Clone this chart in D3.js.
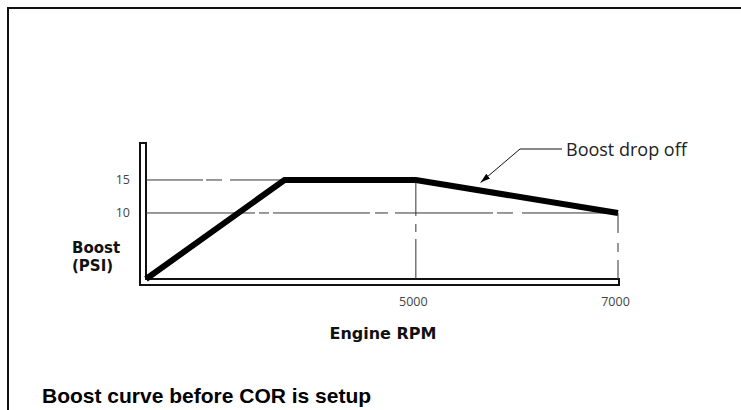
<!DOCTYPE html>
<html lang="en">
    <head>
        <meta charset="UTF-8" />
        <title>Boost curve before COR is setup</title>
        <script src="https://cdn.jsdelivr.net/npm/d3@7"></script>
        <style>
            body {
                margin: 0;
                background: #fff;
                overflow: hidden;
            }
            .tick-label {
                font-family: 'Open Sans', 'DejaVu Sans', sans-serif;
                font-size: 12.5px;
                fill: #444;
            }
            .axis-title {
                font-family: 'DejaVu Sans', sans-serif;
                font-weight: bold;
                fill: #111;
            }
        </style>
    </head>
    <body>
        <div id="container"></div>
        <script>
            // boost curve (schematic), origin is unlabelled
            const rpm = [2330, 3700, 5000, 7000]
            const boost = [0, 15, 15, 10]
            const yTicks = [10, 15]
            const xTicks = [5000, 7000]
            const yTitle = ['Boost', '(PSI)']
            const xTitle = 'Engine RPM'
            const note = 'Boost drop off'
            const caption = 'Boost curve before COR is setup'

            const width = 741
            const height = 410

            const svg = d3.select('#container').append('svg').attr('width', width).attr('height', height)

            // outer frame, runs off the right and bottom
            svg.append('rect')
                .attr('x', 8)
                .attr('y', 8)
                .attr('width', 800)
                .attr('height', 500)
                .attr('fill', 'none')
                .attr('stroke', '#111')
                .attr('stroke-width', 2)

            const x = d3.scaleLinear().domain([rpm[0], 7000]).range([146, 618])
            const y = d3.scaleLinear().domain([0, 20.6]).range([279, 143])

            const x0 = x.range()[0]
            const y0 = y(0)

            // double-line axes drawn as a hollow outline
            svg.append('path')
                .attr('d', `M${x0},${y.range()[1]} V${y0} H${x(7000) + 1} V${y0 + 6} H${x0 - 6} V${y.range()[1]} Z`)
                .attr('fill', 'none')
                .attr('stroke', '#111')
                .attr('stroke-width', 2)

            const thin = (sel) => sel.attr('fill', 'none').attr('stroke', '#333').attr('stroke-width', 1)

            // reference (centre) lines
            svg.append('line')
                .attr('x1', x0)
                .attr('x2', x(rpm[1]))
                .attr('y1', y(15))
                .attr('y2', y(15))
                .call(thin)
                .attr('stroke-dasharray', '57 3 16 8 200')
            svg.append('line')
                .attr('x1', x0)
                .attr('x2', x(7000))
                .attr('y1', y(10))
                .attr('y2', y(10))
                .call(thin)
                .attr('stroke-dasharray', '109 4 10 4 97 5 13 7 98 4 16 9 200')
            svg.append('line')
                .attr('x1', x(5000))
                .attr('x2', x(5000))
                .attr('y1', y(15))
                .attr('y2', y0)
                .call(thin)
                .attr('stroke-dasharray', '36 8 8 7 200')
            svg.append('line')
                .attr('x1', x(7000))
                .attr('x2', x(7000))
                .attr('y1', y(10))
                .attr('y2', y0)
                .call(thin)
                .attr('stroke-dasharray', '20 10 9 8 200')

            // the boost curve
            const line = d3
                .line()
                .x((d) => x(d[0]))
                .y((d) => y(d[1]))
            svg.append('path')
                .attr('d', line(d3.zip(rpm, boost)))
                .attr('fill', 'none')
                .attr('stroke', '#000')
                .attr('stroke-width', 6)
                .attr('stroke-linejoin', 'miter')

            // tick labels only, no tick marks
            const yAxis = svg
                .append('g')
                .attr('transform', `translate(${x0},0)`)
                .call(d3.axisLeft(y).tickValues(yTicks).tickSize(0).tickPadding(16))
            const xAxis = svg
                .append('g')
                .attr('transform', `translate(0,${y0})`)
                .call(d3.axisBottom(x).tickValues(xTicks).tickFormat(d3.format('d')).tickSize(0).tickPadding(18))
            for (const g of [yAxis, xAxis]) {
                g.select('.domain').remove()
                g.selectAll('text').attr('class', 'tick-label').attr('fill', null).attr('font-family', null).attr('font-size', null)
            }
            xAxis.selectAll('text').attr('dx', -3)

            // axis titles
            svg.append('text')
                .attr('class', 'axis-title')
                .attr('x', 72)
                .selectAll('tspan')
                .data(yTitle)
                .enter()
                .append('tspan')
                .attr('x', 72)
                .attr('y', (d, i) => 253 + i * 18)
                .style('font-size', '15px')
                .text((d) => d)

            svg.append('text')
                .attr('class', 'axis-title')
                .attr('x', 383)
                .attr('y', 339)
                .attr('text-anchor', 'middle')
                .style('font-size', '16px')
                .text(xTitle)

            // leader with arrow
            const tipX = x(5640)
            const tipY = y(14) - 4
            svg.append('defs')
                .append('marker')
                .attr('id', 'arrow')
                .attr('viewBox', '0 0 10 6')
                .attr('refX', 10)
                .attr('refY', 3)
                .attr('markerWidth', 10)
                .attr('markerHeight', 6)
                .attr('markerUnits', 'userSpaceOnUse')
                .attr('orient', 'auto')
                .append('path')
                .attr('d', 'M0,0 L10,3 L0,6 Z')
                .attr('fill', '#000')
            svg.append('path')
                .attr('d', `M562,149 H520 L${tipX},${tipY}`)
                .attr('fill', 'none')
                .attr('stroke', '#111')
                .attr('stroke-width', 1)
                .attr('marker-end', 'url(#arrow)')
            svg.append('text')
                .attr('x', 566)
                .attr('y', 156)
                .style('font-family', "'Open Sans', 'DejaVu Sans', sans-serif")
                .style('font-size', '18px')
                .style('fill', '#222')
                .text(note)

            // caption
            svg.append('text')
                .attr('x', 42)
                .attr('y', 403)
                .style('font-family', "'Liberation Sans', Arial, sans-serif")
                .style('font-weight', 'bold')
                .style('font-size', '21px')
                .style('fill', '#000')
                .text(caption)
        </script>
    </body>
</html>
